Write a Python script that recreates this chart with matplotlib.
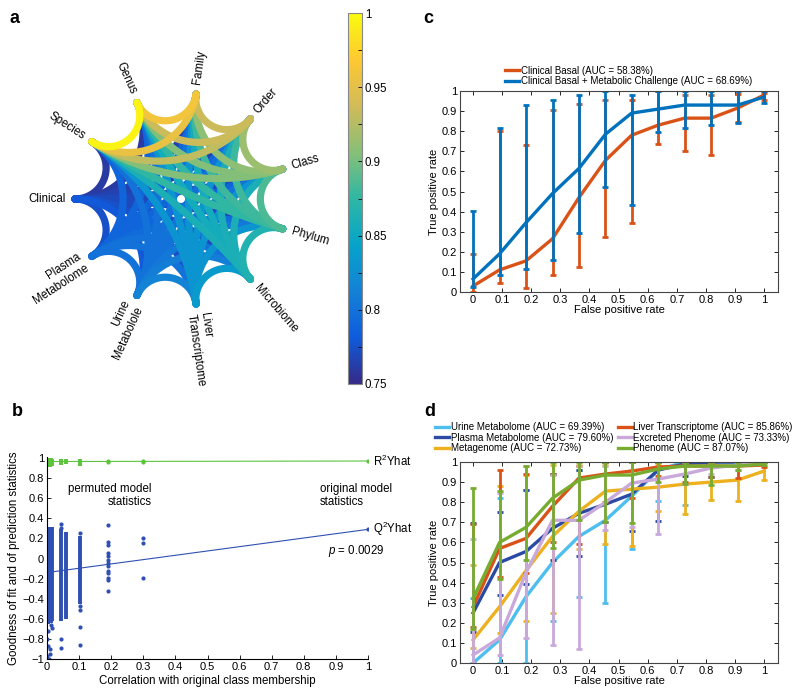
import numpy as np
import matplotlib
matplotlib.use('Agg')
import matplotlib.pyplot as plt
from matplotlib.colors import LinearSegmentedColormap, Normalize
from matplotlib.cm import ScalarMappable
from matplotlib.ticker import FuncFormatter, MultipleLocator

plt.rcParams['font.family'] = ['Liberation Sans', 'DejaVu Sans']
plt.rcParams['mathtext.fontset'] = 'custom'
plt.rcParams['mathtext.rm'] = 'Liberation Sans'
plt.rcParams['mathtext.it'] = 'Liberation Sans:italic'

# ---------------- panel a: block correlations ----------------
nodes = ['Clinical', 'Species', 'Genus', 'Family', 'Order', 'Class', 'Phylum',
         'Microbiome', 'Liver\nTranscriptome', 'Urine\nMetabolole', 'Plasma\nMetabolome']
# upper triangle, row i holds correlation of node i with nodes i+1 .. end
corr_upper = [
    [0.76, 0.76, 0.765, 0.765, 0.77, 0.77, 0.77, 0.775, 0.78, 0.775],
    [0.995, 0.955, 0.93, 0.905, 0.875, 0.86, 0.83, 0.80, 0.79],
    [0.96, 0.935, 0.905, 0.875, 0.855, 0.83, 0.80, 0.79],
    [0.935, 0.91, 0.88, 0.855, 0.83, 0.80, 0.79],
    [0.915, 0.88, 0.86, 0.83, 0.80, 0.79],
    [0.885, 0.86, 0.83, 0.80, 0.79],
    [0.865, 0.83, 0.805, 0.795],
    [0.835, 0.81, 0.80],
    [0.815, 0.80],
    [0.80],
]
cbar_ticks = [0.75, 0.8, 0.85, 0.9, 0.95, 1.0]

# ---------------- panel b: permutation test ----------------
r2_dense_x = [0.002, 0.006, 0.010, 0.014, 0.017, 0.044, 0.059, 0.103]
r2_dense_lo = [0.91, 0.92, 0.91, 0.92, 0.92, 0.93, 0.94, 0.92]
r2_dense_hi = [1.0, 1.0, 1.0, 1.0, 0.99, 0.99, 0.99, 0.99]
r2_pts_x = [0.19, 0.19, 0.30, 0.30, 1.0]
r2_pts_y = [0.97, 0.96, 0.975, 0.965, 0.97]
r2_fit_x = [0.0, 1.0]
r2_fit_y = [0.965, 0.97]

q2_dense_x = [0.002, 0.006, 0.010, 0.014, 0.017, 0.044, 0.059, 0.103]
q2_dense_lo = [-0.65, -0.63, -0.62, -0.64, -0.62, -0.62, -0.60, -0.45]
q2_dense_hi = [0.31, 0.31, 0.31, 0.31, 0.31, 0.29, 0.26, 0.22]
q2_pts_x = [0.003, 0.0, 0.002, 0.008, 0.0, 0.005, 0.012, 0.017, 0.010,
            0.044, 0.044, 0.044, 0.044,
            0.103, 0.103, 0.103, 0.103, 0.103,
            0.19, 0.19, 0.19, 0.19, 0.19, 0.19, 0.19, 0.19, 0.19, 0.19, 0.19, 0.19, 0.19,
            0.30, 0.30, 0.30, 1.0]
q2_pts_y = [-0.72, -0.80, -0.87, -0.90, -0.97, -1.0, -0.66, -0.69, -0.95,
            0.34, 0.30, -0.80, -0.89,
            0.25, -0.47, -0.51, -0.68, -0.86,
            0.33, 0.16, 0.13, 0.05, 0.02, -0.01, -0.04, -0.07, -0.12, -0.14, -0.19, -0.21, -0.32,
            0.20, 0.15, -0.19, 0.29]
q2_fit_x = [0.0, 1.0]
q2_fit_y = [-0.14, 0.29]

# ---------------- panels c and d: ROC curves ----------------
fpr = [0, 0.091, 0.182, 0.273, 0.364, 0.455, 0.545, 0.636, 0.727, 0.818, 0.909, 1.0]

basal_mean = [0.03, 0.11, 0.155, 0.265, 0.47, 0.655, 0.78, 0.83, 0.865, 0.865, 0.915, 0.98]
basal_lo = [0.0, 0.045, 0.02, 0.085, 0.125, 0.275, 0.345, 0.735, 0.70, 0.68, 0.845, 0.955]
basal_hi = [0.19, 0.80, 0.73, 0.905, 0.935, 0.955, 0.955, 1.0, 0.98, 0.98, 0.985, 0.99]
challenge_mean = [0.065, 0.19, 0.345, 0.49, 0.615, 0.785, 0.89, 0.91, 0.93, 0.93, 0.93, 0.97]
challenge_lo = [0.025, 0.085, 0.115, 0.16, 0.295, 0.52, 0.435, 0.795, 0.815, 0.83, 0.84, 0.94]
challenge_hi = [0.405, 0.815, 0.93, 0.955, 0.98, 1.0, 0.98, 1.0, 1.0, 1.0, 1.0, 1.0]
c_labels = ['Clinical Basal (AUC = 58.38%)',
            'Clinical Basal + Metabolic Challenge (AUC = 68.69%)']

d_labels = ['Urine Metabolome (AUC = 69.39%)', 'Plasma Metabolome (AUC = 79.60%)',
            'Metagenome (AUC = 72.73%)', 'Liver Transcriptome (AUC = 85.86%)',
            'Excreted Phenome (AUC = 73.33%)', 'Phenome (AUC = 87.07%)']
urine_mean = [0.0, 0.115, 0.33, 0.50, 0.63, 0.71, 0.83, 0.96, 1.0, 1.0, 1.0, 1.0]
urine_lo = [0.0, 0.0, 0.0, 0.21, 0.33, 0.30, 0.565, 0.805, 0.785, 1.0, 1.0, 1.0]
urine_hi = [0.325, 0.82, 0.86, 0.94, 0.96, 1.0, 1.0, 1.0, 1.0, 1.0, 1.0, 1.0]
plasma_mean = [0.25, 0.50, 0.555, 0.67, 0.745, 0.79, 0.84, 0.96, 0.99, 1.0, 1.0, 1.0]
plasma_lo = [0.155, 0.34, 0.395, 0.51, 0.53, 0.70, 0.655, 0.705, 0.93, 0.925, 1.0, 1.0]
plasma_hi = [0.695, 0.75, 0.86, 0.94, 0.96, 1.0, 1.0, 1.0, 1.0, 1.0, 1.0, 1.0]
meta_mean = [0.115, 0.28, 0.46, 0.63, 0.755, 0.855, 0.865, 0.875, 0.89, 0.90, 0.91, 0.955]
meta_lo = [0.075, 0.15, 0.21, 0.25, 0.565, 0.59, 0.58, 0.755, 0.74, 0.81, 0.805, 0.91]
meta_hi = [0.49, 0.88, 0.935, 0.985, 0.985, 0.985, 0.96, 0.985, 1.0, 0.99, 1.0, 1.0]
liver_mean = [0.28, 0.57, 0.62, 0.78, 0.92, 0.94, 0.955, 0.975, 0.98, 0.98, 0.98, 0.985]
liver_lo = [0.18, 0.43, 0.45, 0.60, 0.59, 0.80, 0.82, 0.93, 0.90, 0.925, 0.92, 0.975]
liver_hi = [0.69, 0.96, 0.94, 0.94, 0.98, 1.0, 1.0, 1.0, 1.0, 1.0, 1.0, 1.0]
excr_mean = [0.04, 0.125, 0.45, 0.71, 0.71, 0.80, 0.895, 0.915, 0.94, 0.97, 0.985, 1.0]
excr_lo = [0.0, 0.04, 0.125, 0.09, 0.07, 0.66, 0.675, 0.64, 0.89, 0.94, 0.96, 1.0]
excr_hi = [0.615, 0.845, 0.98, 0.935, 0.98, 0.98, 1.0, 1.0, 1.0, 1.0, 1.0, 1.0]
pheno_mean = [0.32, 0.60, 0.675, 0.82, 0.91, 0.935, 0.935, 0.965, 0.98, 0.98, 0.98, 0.99]
pheno_lo = [0.17, 0.42, 0.51, 0.57, 0.71, 0.70, 0.695, 0.90, 0.89, 0.885, 0.96, 0.985]
pheno_hi = [0.87, 0.855, 0.98, 1.0, 1.0, 1.0, 1.0, 1.0, 1.0, 1.0, 1.0, 1.0]

W, H = 800, 696
tick_fmt = FuncFormatter(lambda v, p: ('%g' % (round(v, 3) + 0.0)).replace('-', '\u2212'))


def px_rect(l, t, r, b):
    return [l / W, 1 - b / H, (r - l) / W, (b - t) / H]


def geodesic(t1, t2, n=80):
    # arc of the circle orthogonal to the unit circle through both nodes
    d = (t2 - t1 + np.pi) % (2 * np.pi) - np.pi
    half = abs(d) / 2
    mid = t1 + d / 2
    c = np.array([np.cos(mid), np.sin(mid)]) / np.cos(half)
    r = np.tan(half)
    a1 = np.arctan2(np.sin(t1) - c[1], np.cos(t1) - c[0])
    a2 = np.arctan2(np.sin(t2) - c[1], np.cos(t2) - c[0])
    da = (a2 - a1 + np.pi) % (2 * np.pi) - np.pi
    a = np.linspace(a1, a1 + da, n)
    return c[0] + r * np.cos(a), c[1] + r * np.sin(a)


def style_roc(ax):
    ax.set_xlim(-0.045, 1.048)
    ax.set_ylim(0, 1)
    ax.set_xticks(np.arange(0, 1.01, 0.1))
    ax.set_yticks(np.arange(0, 1.01, 0.1))
    ax.xaxis.set_major_formatter(tick_fmt)
    ax.yaxis.set_major_formatter(tick_fmt)
    ax.tick_params(direction='in', top=True, right=True, length=3, width=0.6,
                   labelsize=8, pad=2)
    for s in ax.spines.values():
        s.set_linewidth(0.8)
        s.set_color('#444444')
    ax.set_xlabel('False positive rate', fontsize=8, labelpad=0.5)
    ax.set_ylabel('True positive rate', fontsize=8, labelpad=2)


def roc_series(ax, mean, lo, hi, color, label):
    mean = np.array(mean)
    yerr = [mean - np.array(lo), np.array(hi) - mean]
    ax.errorbar(fpr, mean, yerr=yerr, fmt='none', ecolor=color, elinewidth=2.0,
                capsize=2.2, capthick=2.0)
    ax.plot(fpr, mean, color=color, lw=2.4, label=label, solid_joinstyle='round')


parula = LinearSegmentedColormap.from_list('parula', [
    '#352a87', '#0f5cdd', '#1481d6', '#06a4ca', '#2eb7a4',
    '#87bf77', '#d1bb59', '#fec832', '#f9fb0e'])
norm = Normalize(0.75, 1.0)

fig = plt.figure(figsize=(W / 100, H / 100), dpi=100)

# ---- a ----
axa = fig.add_axes(px_rect(0, 0, 340, 395))
cx, cy, sc = 181, 199, 106
axa.set_xlim((0 - cx) / sc, (340 - cx) / sc)
axa.set_ylim((cy - 395) / sc, (cy - 0) / sc)
axa.axis('off')
n = len(nodes)
theta = [np.pi - k * 2 * np.pi / n for k in range(n)]
edges = []
for i, row in enumerate(corr_upper):
    for k, v in enumerate(row):
        edges.append((v, i, i + 1 + k))
edges.sort()
for v, i, j in edges:
    xs, ys = geodesic(theta[i], theta[j])
    axa.plot(xs, ys, color=parula(norm(v)), lw=5.2, solid_capstyle='round')
for k, name in enumerate(nodes):
    t = theta[k]
    deg = np.degrees(np.arctan2(np.sin(t), np.cos(t)))
    if abs(deg) > 90:
        rot = deg - 180 if deg > 0 else deg + 180
        ha = 'right'
    else:
        rot, ha = deg, 'left'
    axa.text(1.09 * np.cos(t), 1.09 * np.sin(t), name, rotation=rot, ha=ha,
             va='center', rotation_mode='anchor', fontsize=8.3, clip_on=False)

cax = fig.add_axes(px_rect(348, 13, 362, 384))
cb = fig.colorbar(ScalarMappable(norm=norm, cmap=parula), cax=cax)
cb.set_ticks(cbar_ticks)
cb.set_ticklabels(['%g' % t for t in cbar_ticks])
cax.yaxis.set_minor_locator(MultipleLocator(0.025))
cax.tick_params(which='both', direction='in', length=3, width=0.6, labelsize=8.3, pad=2)
cb.outline.set_edgecolor('#888888')
cb.outline.set_linewidth(0.8)

# ---- b ----
green, blue = '#5cc43c', '#2f50b2'
axb = fig.add_axes(px_rect(47, 457, 368, 659))
axb.vlines(r2_dense_x, r2_dense_lo, r2_dense_hi, color=green, lw=2.8)
axb.plot(r2_pts_x, r2_pts_y, '.', color=green, ms=4)
axb.plot(r2_fit_x, r2_fit_y, color=green, lw=0.8)
axb.vlines(q2_dense_x, q2_dense_lo, q2_dense_hi, color=blue, lw=2.8)
axb.plot(q2_pts_x, q2_pts_y, '.', color=blue, ms=4)
axb.plot(q2_fit_x, q2_fit_y, color=blue, lw=0.8)
axb.set_xlim(0, 1)
axb.set_ylim(-1, 1.01)
axb.set_xticks(np.arange(0, 1.01, 0.1))
axb.set_yticks(np.arange(-1, 1.01, 0.2))
axb.xaxis.set_major_formatter(tick_fmt)
axb.yaxis.set_major_formatter(tick_fmt)
axb.tick_params(direction='in', length=3, width=0.6, labelsize=8, pad=2)
axb.spines['top'].set_visible(False)
axb.spines['right'].set_visible(False)
for s in ('left', 'bottom'):
    axb.spines[s].set_linewidth(0.8)
axb.set_xlabel('Correlation with original class membership', fontsize=8.3, labelpad=2)
axb.set_ylabel('Goodness of fit and of prediction statistics', fontsize=8.3, labelpad=2)
axb.text(0.327, 0.63, 'permuted model\nstatistics', ha='right', va='center',
         multialignment='right', fontsize=8.3, linespacing=1.1)
axb.text(0.85, 0.63, 'original model\nstatistics', ha='left', va='center',
         fontsize=8.3, linespacing=1.1)
axb.text(1.015, 0.97, 'R$^{2}$Yhat', ha='left', va='center', fontsize=8.3, clip_on=False)
axb.text(1.015, 0.29, 'Q$^{2}$Yhat', ha='left', va='center', fontsize=8.3, clip_on=False)
axb.text(0.875, 0.07, '$p$ = 0.0029', ha='left', va='center', fontsize=8.3)

# ---- c ----
axc = fig.add_axes(px_rect(460, 91, 778, 292))
roc_series(axc, basal_mean, basal_lo, basal_hi, '#d95319', c_labels[0])
roc_series(axc, challenge_mean, challenge_lo, challenge_hi, '#0072bd', c_labels[1])
style_roc(axc)
axc.legend(loc='lower left', bbox_to_anchor=(505 / W, 1 - 86 / H),
           bbox_transform=fig.transFigure, frameon=False, fontsize=7,
           handlelength=1.45, handletextpad=0.15, labelspacing=0.05,
           borderpad=0, borderaxespad=0)

# ---- d ----
axd = fig.add_axes(px_rect(460, 462, 778, 663))
d_colors = ['#4dbeee', '#2a4aa4', '#edb120', '#d95319', '#c9a8da', '#77ac30']
d_series = [(urine_mean, urine_lo, urine_hi), (plasma_mean, plasma_lo, plasma_hi),
            (meta_mean, meta_lo, meta_hi), (liver_mean, liver_lo, liver_hi),
            (excr_mean, excr_lo, excr_hi), (pheno_mean, pheno_lo, pheno_hi)]
for (m, lo, hi), col, lab in zip(d_series, d_colors, d_labels):
    roc_series(axd, m, lo, hi, col, lab)
style_roc(axd)
axd.legend(loc='lower left', bbox_to_anchor=(435 / W, 1 - 453 / H),
           bbox_transform=fig.transFigure, frameon=False, fontsize=7, ncol=2,
           handlelength=1.45, handletextpad=0.15, labelspacing=0.05,
           columnspacing=0.5, borderpad=0, borderaxespad=0)

# panel letters
for lab, x, y in [('a', 10, 23), ('b', 12, 416), ('c', 423, 23), ('d', 424, 416)]:
    fig.text(x / W, 1 - y / H, lab, fontsize=13, fontweight='bold', va='baseline')

fig.savefig('out.png', dpi=100)
